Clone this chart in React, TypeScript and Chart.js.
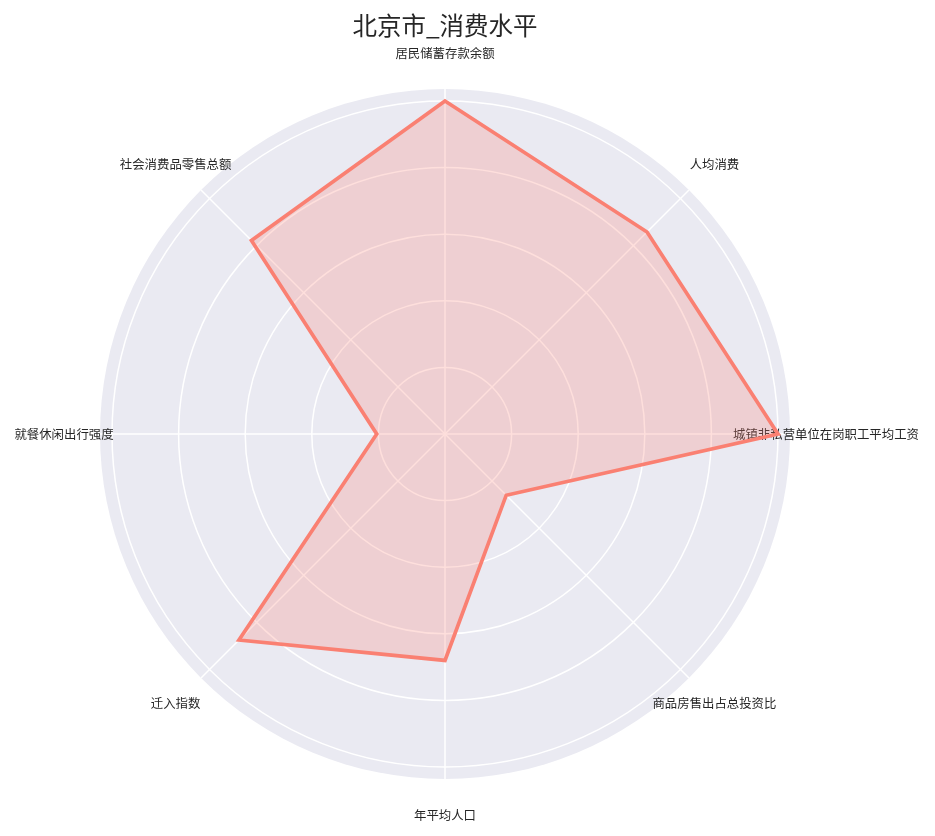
import React, { useEffect, useRef } from "react";
import { Chart, registerables } from "chart.js";

Chart.register(...registerables);

const TITLE = "北京市_消费水平";
const LABELS = [
  "居民储蓄存款余额",
  "人均消费",
  "城镇非私营单位在岗职工平均工资",
  "商品房售出占总投资比",
  "年平均人口",
  "迁入指数",
  "就餐休闲出行强度",
  "社会消费品零售总额",
];
const VALUES = [1.0, 0.858, 1.0, 0.26, 0.68, 0.875, 0.205, 0.822];
const TICKS_MAX = 1.0;
const TICK_STEP = 0.2;

const FONT = "'Noto Sans CJK SC', 'Noto Sans', sans-serif";

const decor = {
  id: "decor",
  beforeDraw(chart: any) {
    const s = chart.scales.r;
    const ctx = chart.ctx;
    const R = s.drawingArea * (345 / 333);
    ctx.save();
    ctx.fillStyle = "#EAEAF2";
    ctx.beginPath();
    ctx.arc(s.xCenter, s.yCenter, R, 0, Math.PI * 2);
    ctx.fill();
    ctx.strokeStyle = "#FFFFFF";
    ctx.lineWidth = 1.5;
    for (let i = 0; i < LABELS.length; i++) {
      const p = s.getPointPosition(i, R);
      ctx.beginPath();
      ctx.moveTo(s.xCenter, s.yCenter);
      ctx.lineTo(p.x, p.y);
      ctx.stroke();
    }
    ctx.restore();
  },
  beforeDatasetsDraw(chart: any) {
    const s = chart.scales.r;
    const ctx = chart.ctx;
    ctx.save();
    ctx.fillStyle = "#262626";
    ctx.textAlign = "center";
    ctx.textBaseline = "middle";
    ctx.font = `24.5px ${FONT}`;
    ctx.fillText(TITLE, s.xCenter, 26);
    ctx.font = `12.4px ${FONT}`;
    const LR = s.drawingArea * (381 / 333);
    for (let i = 0; i < LABELS.length; i++) {
      const p = s.getPointPosition(i, LR);
      ctx.fillText(LABELS[i], p.x, p.y);
    }
    ctx.restore();
  },
};

export default function App() {
  const ref = useRef<HTMLCanvasElement | null>(null);
  useEffect(() => {
    if (!ref.current) return;
    const chart = new Chart(ref.current, {
      type: "radar",
      data: {
        labels: LABELS,
        datasets: [
          {
            data: VALUES,
            borderColor: "#FA8072",
            backgroundColor: "rgba(250,128,114,0.25)",
            borderWidth: 3.7,
            pointRadius: 0,
            fill: true,
            tension: 0,
          },
        ],
      },
      options: {
        animation: false,
        responsive: false,
        maintainAspectRatio: false,
        layout: { padding: { left: 112, right: 157, top: 101, bottom: 69 } },
        plugins: { legend: { display: false }, tooltip: { enabled: false }, title: { display: false } },
        scales: {
          r: {
            min: 0,
            max: TICKS_MAX,
            ticks: { display: false, stepSize: TICK_STEP },
            pointLabels: { display: false },
            angleLines: { display: false },
            grid: { circular: true, color: "#FFFFFF", lineWidth: 1.5 },
          },
        },
      },
      plugins: [decor],
    });
    return () => chart.destroy();
  }, []);
  return (
    <div style={{ position: "fixed", left: 0, top: 0, width: 935, height: 836, background: "#fff" }}>
      <canvas ref={ref} width={935} height={836} style={{ width: 935, height: 836, display: "block" }} />
    </div>
  );
}
